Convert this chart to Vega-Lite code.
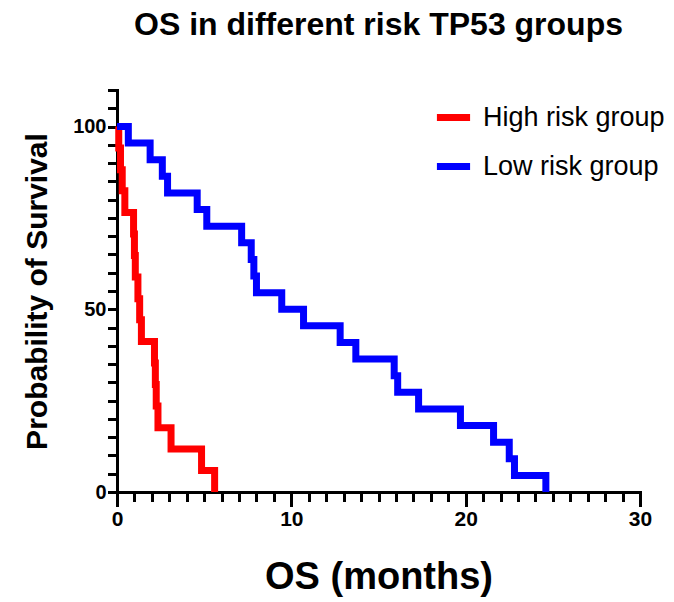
{
  "$schema": "https://vega.github.io/schema/vega-lite/v6.json",
  "width": 523,
  "height": 402,
  "autosize": "none",
  "padding": {"left": 117, "top": 90, "right": 34, "bottom": 110},
  "background": "white",
  "title": {
    "text": "OS in different risk TP53 groups",
    "font": "Liberation Sans",
    "fontSize": 32,
    "fontWeight": "bold",
    "color": "black",
    "anchor": "middle",
    "offset": 38
  },
  "config": {"view": {"stroke": null}},
  "data": {
    "values": [
      {"group": "High risk group", "time": 0, "survival": 100},
      {"group": "High risk group", "time": 0.1, "survival": 94.1},
      {"group": "High risk group", "time": 0.2, "survival": 88.2},
      {"group": "High risk group", "time": 0.3, "survival": 82.4},
      {"group": "High risk group", "time": 0.45, "survival": 76.5},
      {"group": "High risk group", "time": 0.95, "survival": 70.6},
      {"group": "High risk group", "time": 1.0, "survival": 64.7},
      {"group": "High risk group", "time": 1.05, "survival": 58.8},
      {"group": "High risk group", "time": 1.2, "survival": 52.9},
      {"group": "High risk group", "time": 1.3, "survival": 47.1},
      {"group": "High risk group", "time": 1.4, "survival": 41.2},
      {"group": "High risk group", "time": 2.15, "survival": 35.3},
      {"group": "High risk group", "time": 2.2, "survival": 29.4},
      {"group": "High risk group", "time": 2.25, "survival": 23.5},
      {"group": "High risk group", "time": 2.35, "survival": 17.6},
      {"group": "High risk group", "time": 3.1, "survival": 11.8},
      {"group": "High risk group", "time": 4.85, "survival": 5.9},
      {"group": "High risk group", "time": 5.6, "survival": 0},
      {"group": "Low risk group", "time": 0, "survival": 100},
      {"group": "Low risk group", "time": 0.65, "survival": 95.5},
      {"group": "Low risk group", "time": 1.9, "survival": 90.9},
      {"group": "Low risk group", "time": 2.6, "survival": 86.4},
      {"group": "Low risk group", "time": 2.9, "survival": 81.8},
      {"group": "Low risk group", "time": 4.6, "survival": 77.3},
      {"group": "Low risk group", "time": 5.15, "survival": 72.7},
      {"group": "Low risk group", "time": 7.15, "survival": 68.2},
      {"group": "Low risk group", "time": 7.7, "survival": 63.6},
      {"group": "Low risk group", "time": 7.85, "survival": 59.1},
      {"group": "Low risk group", "time": 8.0, "survival": 54.5},
      {"group": "Low risk group", "time": 9.45, "survival": 50},
      {"group": "Low risk group", "time": 10.7, "survival": 45.5},
      {"group": "Low risk group", "time": 12.8, "survival": 40.9},
      {"group": "Low risk group", "time": 13.7, "survival": 36.4},
      {"group": "Low risk group", "time": 15.9, "survival": 31.8},
      {"group": "Low risk group", "time": 16.1, "survival": 27.3},
      {"group": "Low risk group", "time": 17.3, "survival": 22.7},
      {"group": "Low risk group", "time": 19.7, "survival": 18.2},
      {"group": "Low risk group", "time": 21.6, "survival": 13.6},
      {"group": "Low risk group", "time": 22.5, "survival": 9.1},
      {"group": "Low risk group", "time": 22.8, "survival": 4.5},
      {"group": "Low risk group", "time": 24.6, "survival": 0}
    ]
  },
  "mark": {"type": "line", "interpolate": "step-after", "strokeWidth": 7, "clip": false},
  "encoding": {
    "x": {
      "field": "time",
      "type": "quantitative",
      "scale": {"domain": [0, 30], "nice": false},
      "axis": {
        "title": "OS (months)",
        "titleFont": "Liberation Sans",
        "titleFontSize": 38,
        "titleFontWeight": "bold",
        "titleColor": "black",
        "titlePadding": 29,
        "values": [0,1,2,3,4,5,6,7,8,9,10,11,12,13,14,15,16,17,18,19,20,21,22,23,24,25,26,27,28,29,30],
        "labelExpr": "datum.value % 10 === 0 ? datum.label : ''",
        "labelOverlap": false,
        "labelFont": "Liberation Sans",
        "labelFontSize": 21,
        "labelFontWeight": "bold",
        "labelColor": "black",
        "labelPadding": 3,
        "labelFlush": false,
        "grid": false,
        "domainColor": "black",
        "domainWidth": 3,
        "ticks": true,
        "tickColor": "black",
        "tickWidth": 3,
        "tickCap": "square",
        "tickSize": {"condition": {"test": "datum.value % 10 === 0", "value": 13}, "value": 8}
      }
    },
    "y": {
      "field": "survival",
      "type": "quantitative",
      "scale": {"domain": [0, 110], "nice": false},
      "axis": {
        "title": "Probability of Survival",
        "titleFont": "Liberation Sans",
        "titleFontSize": 30,
        "titleFontWeight": "bold",
        "titleColor": "black",
        "titlePadding": 20,
        "values": [0,5,10,15,20,25,30,35,40,45,50,55,60,65,70,75,80,85,90,95,100,105,110],
        "labelExpr": "datum.value % 50 === 0 ? datum.label : ''",
        "labelOverlap": false,
        "labelFont": "Liberation Sans",
        "labelFontSize": 20,
        "labelFontWeight": "bold",
        "labelColor": "black",
        "labelPadding": 3,
        "labelFlush": false,
        "grid": false,
        "domainColor": "black",
        "domainWidth": 3,
        "ticks": true,
        "tickColor": "black",
        "tickWidth": 3,
        "tickCap": "square",
        "tickSize": 8
      }
    },
    "color": {
      "field": "group",
      "type": "nominal",
      "scale": {"domain": ["High risk group", "Low risk group"], "range": ["#ff0000", "#0000ff"]},
      "legend": {
        "title": null,
        "orient": "none",
        "legendX": 316,
        "legendY": 7,
        "symbolType": "stroke",
        "symbolSize": 1100,
        "symbolStrokeWidth": 7,
        "labelFont": "Liberation Sans",
        "labelFontSize": 27,
        "labelColor": "black",
        "labelOffset": 9,
        "rowPadding": 14,
        "labelLimit": 300
      }
    }
  }
}
